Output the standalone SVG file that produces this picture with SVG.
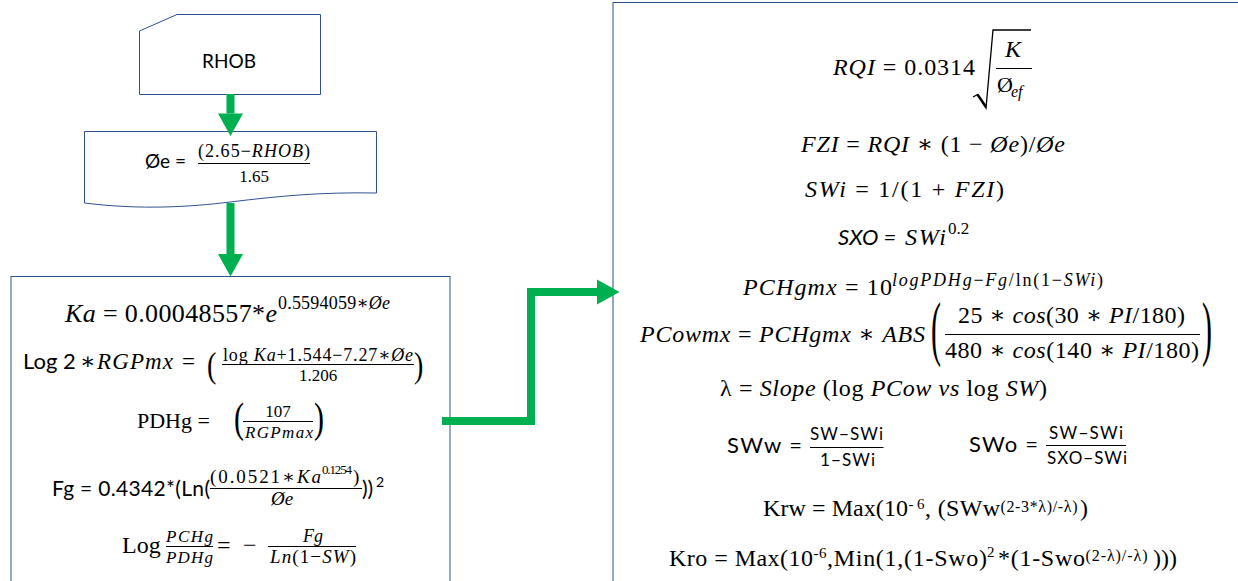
<svg xmlns="http://www.w3.org/2000/svg" width="1238" height="581" viewBox="0 0 1238 581">
<style>
.box{fill:#fff;stroke:#2F528F;stroke-width:1}
.m{font-family:"Liberation Serif","DejaVu Serif",serif;fill:#000}
.s{font-family:Lato,"Liberation Sans",sans-serif;fill:#000}
.i{font-style:italic}
.bar{stroke:#000;stroke-width:1}
.rad{fill:none;stroke:#000;stroke-width:1.3}
.flow{fill:none;stroke:#00B050;stroke-width:8;stroke-linejoin:miter}
</style>
<defs>
<marker id="ah" markerUnits="userSpaceOnUse" markerWidth="23" markerHeight="25" refX="0" refY="12.5" orient="auto" overflow="visible">
<path d="M0,0 L22.5,12.5 L0,25 Z" fill="#00B050"/>
</marker>
</defs>
<rect width="1238" height="581" fill="#fff"/>

<g id="rhob">
<path class="box" d="M139.5,31 L177,14.5 H320.5 V94.5 H139.5 Z"/>
<text class="s" x="229" y="68" font-size="19" text-anchor="middle">RHOB</text>
</g>

<g id="porosity">
<path class="box" d="M84.5,131.5 H376.5 V193 C320,192 280,196 230,202 C190,207 140,210 84.5,203 Z"/>
<text class="s" x="145" y="168" font-size="19">Øe =</text>
<text class="m" x="198" y="157" font-size="18" textLength="112">(2.65−<tspan class="i">RHOB</tspan>)</text>
<line class="bar" x1="198" y1="163.5" x2="310" y2="163.5"/>
<text class="m" x="254" y="182" font-size="17" text-anchor="middle">1.65</text>
</g>

<g id="gas-calc">
<rect class="box" x="11" y="276.5" width="439" height="330"/>
<text class="m" x="65" y="322" font-size="26" textLength="212"><tspan class="i">Ka</tspan> = 0.00048557*<tspan class="i">e</tspan></text>
<text class="m" x="278" y="309" font-size="18" textLength="112">0.5594059∗<tspan class="i">Øe</tspan></text>

<text class="s" x="23" y="369" font-size="22">Log 2</text>
<text class="m" x="80" y="369" font-size="23">∗</text>
<text class="m i" x="97" y="369" font-size="23" textLength="76">RGPmx</text>
<text class="m" x="182" y="369" font-size="23">=</text>
<text class="m" font-size="28" transform="translate(207,376.6) scale(1,1.3)">(</text>
<text class="m" x="223" y="361" font-size="18" textLength="190">log <tspan class="i">Ka</tspan>+1.544−7.27∗<tspan class="i">Øe</tspan></text>
<line class="bar" x1="222" y1="364.5" x2="414" y2="364.5"/>
<text class="m" x="318" y="381" font-size="17" text-anchor="middle">1.206</text>
<text class="m" font-size="28" transform="translate(414,376.6) scale(1,1.3)">)</text>

<text class="m" x="137" y="428" font-size="22">PDHg =</text>
<text class="m" font-size="30" transform="translate(234,432) scale(1,1.4)">(</text>
<text class="m" x="278" y="416.5" font-size="17" text-anchor="middle">107</text>
<line class="bar" x1="243" y1="421.5" x2="313" y2="421.5"/>
<text class="m i" x="245" y="438" font-size="17" textLength="68">RGPmax</text>
<text class="m" font-size="30" transform="translate(314,432) scale(1,1.4)">)</text>

<text class="s" x="52" y="496" font-size="21" textLength="158">Fg = 0.4342*(Ln(</text>
<text class="m" x="210" y="483" font-size="19" textLength="111">(0.0521∗<tspan class="i">Ka</tspan></text>
<text class="m" x="322" y="474" font-size="13" textLength="30">0.1254</text>
<text class="m" x="353" y="483" font-size="19">)</text>
<line class="bar" x1="210" y1="488.5" x2="362" y2="488.5"/>
<text class="m i" x="282" y="505" font-size="19" text-anchor="middle">Øe</text>
<text class="s" x="362" y="496" font-size="21">))</text>
<text class="s" x="376" y="487" font-size="14">2</text>

<text class="m" x="122" y="553" font-size="24">Log</text>
<text class="m i" x="166" y="542" font-size="17" textLength="47">PCHg</text>
<line class="bar" x1="166" y1="546.5" x2="213" y2="546.5"/>
<text class="m i" x="166" y="563" font-size="17" textLength="47">PDHg</text>
<text class="m" x="217" y="553" font-size="24">=</text>
<text class="m" x="243" y="553" font-size="24">−</text>
<text class="m i" x="313" y="542" font-size="18" text-anchor="middle">Fg</text>
<line class="bar" x1="268" y1="546.5" x2="356" y2="546.5"/>
<text class="m" x="270" y="563" font-size="19" textLength="86"><tspan class="i">Ln</tspan>(1−<tspan class="i">SW</tspan>)</text>
</g>

<g id="flow-calc">
<rect class="box" x="613" y="2.5" width="700" height="700"/>
<text class="m" x="833" y="75" font-size="24" textLength="142"><tspan class="i">RQI</tspan> = 0.0314</text>
<polyline class="rad" points="973,97 977.5,94.5 986,108 993,30 1031,30"/>
<line x1="977.5" y1="94.5" x2="986" y2="107" stroke="#000" stroke-width="2.4"/>
<text class="m i" x="1013" y="57" font-size="24" text-anchor="middle">K</text>
<line class="bar" x1="996" y1="68.5" x2="1032" y2="68.5"/>
<text class="m" x="997" y="92" font-size="22">Ø</text>
<text class="m i" x="1011" y="97" font-size="16">ef</text>

<text class="m" x="801" y="152" font-size="24" textLength="264"><tspan class="i">FZI</tspan> = <tspan class="i">RQI</tspan> ∗ (1 − <tspan class="i">Øe</tspan>)/<tspan class="i">Øe</tspan></text>
<text class="m" x="805" y="197" font-size="24" textLength="199"><tspan class="i">SWi</tspan> = 1/(1 + <tspan class="i">FZI</tspan>)</text>

<text class="s i" x="838" y="245" font-size="22">SXO =</text>
<text class="m i" x="905" y="245" font-size="24" textLength="41">SWi</text>
<text class="m" x="948" y="234" font-size="17">0.2</text>

<text class="m" x="743" y="295" font-size="24" textLength="149"><tspan class="i">PCHgmx</tspan> = 10</text>
<text class="m" x="892" y="285.5" font-size="18" textLength="211"><tspan class="i">logPDHg</tspan>−<tspan class="i">Fg</tspan>/ln(1−<tspan class="i">SWi</tspan>)</text>

<text class="m" x="640" y="342" font-size="24" textLength="285"><tspan class="i">PCowmx</tspan> = <tspan class="i">PCHgmx</tspan> ∗ <tspan class="i">ABS</tspan></text>
<text class="m" font-size="30" transform="translate(931,352) scale(1,2.42)">(</text>
<text class="m" x="958" y="323" font-size="24" textLength="227">25 ∗ <tspan class="i">cos</tspan>(30 ∗ <tspan class="i">PI</tspan>/180)</text>
<line class="bar" x1="945" y1="334.5" x2="1200" y2="334.5"/>
<text class="m" x="945" y="358" font-size="24" textLength="254">480 ∗ <tspan class="i">cos</tspan>(140 ∗ <tspan class="i">PI</tspan>/180)</text>
<text class="m" font-size="30" transform="translate(1202,352) scale(1,2.42)">)</text>

<text class="m" x="720" y="396" font-size="24" textLength="327">λ = <tspan class="i">Slope</tspan> (log <tspan class="i">PCow vs</tspan> log <tspan class="i">SW</tspan>)</text>

<text class="s" x="727" y="453" font-size="22" textLength="75">SWw =</text>
<text class="s" x="810" y="440" font-size="17" textLength="73">SW−SWi</text>
<line class="bar" x1="810" y1="447.5" x2="883.5" y2="447.5"/>
<text class="s" x="820" y="466" font-size="17" textLength="55">1−SWi</text>

<text class="s" x="969" y="452" font-size="22" textLength="69">SWo =</text>
<text class="s" x="1049" y="438.5" font-size="17" textLength="74">SW−SWi</text>
<line class="bar" x1="1046" y1="445.5" x2="1126" y2="445.5"/>
<text class="s" x="1047" y="464" font-size="17" textLength="80">SXO−SWi</text>

<text class="m" x="763" y="516" font-size="24" textLength="145">Krw = Max(10</text>
<text class="m" x="908.5" y="509" font-size="15" textLength="16">-6</text>
<text class="m" x="925" y="516" font-size="24" textLength="75">, (SWw</text>
<text class="m" x="1000.5" y="512" font-size="16" textLength="77">(2-3*λ)/-λ)</text>
<text class="m" x="1080" y="516" font-size="24">)</text>

<text class="m" x="669" y="566" font-size="24" textLength="144">Kro = Max(10</text>
<text class="m" x="813.5" y="558" font-size="15" textLength="13">-6</text>
<text class="m" x="827" y="566" font-size="24" textLength="160">,Min(1,(1-Swo)</text>
<text class="m" x="987" y="557" font-size="15">2</text>
<text class="m" x="998" y="566" font-size="24" textLength="87">*(1-Swo</text>
<text class="m" x="1085.5" y="561" font-size="16" textLength="62">(2-λ)/-λ)</text>
<text class="m" x="1153" y="566" font-size="24">)))</text>
</g>

<g id="connectors">
<line class="flow" x1="230.5" y1="94" x2="230.5" y2="113.5" marker-end="url(#ah)"/>
<line class="flow" x1="230.5" y1="203" x2="230.5" y2="254" marker-end="url(#ah)"/>
<polyline class="flow" points="442,421 531,421 531,292 597,292" marker-end="url(#ah)"/>
</g>
</svg>
